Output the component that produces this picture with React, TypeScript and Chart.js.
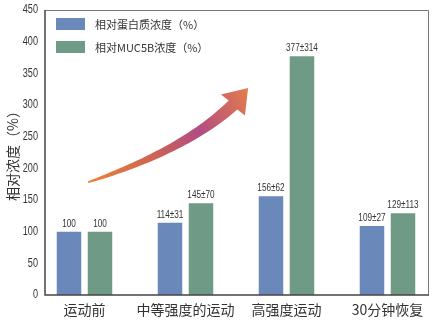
import React, { useEffect, useRef } from "react";
import { Chart, registerables } from "chart.js";

Chart.register(...registerables);

const categories = ["运动前", "中等强度的运动", "高强度运动", "30分钟恢复"];
const seriesNames = ["相对蛋白质浓度（%）", "相对MUC5B浓度（%）"];
const proteinValues = [100, 114, 156, 109];
const proteinErrors = [null, 31, 62, 27];
const mucValues = [100, 145, 377, 129];
const mucErrors = [null, 70, 314, 113];
const yTicks = [0, 50, 100, 150, 200, 250, 300, 350, 400, 450];

const BLUE = "#6b88ba";
const GREEN = "#6f9a86";
const SANS = "'Liberation Sans', Arial, sans-serif";
const CJK = "'Noto Sans CJK SC', 'Noto Sans', sans-serif";

// arrow decoration path in data units (x: category index, y: value)
const arrowStart = { x: 0.035, y: 178 };
const arrowCtrl = { x: 0.995, y: 229 };
const arrowBase = { x: 1.47, y: 300 };
const arrowTip = { x: 1.62, y: 327 };

function fmt(v: number, e: number | null) {
  return e == null ? String(v) : `${v}±${e}`;
}

function narrowText(ctx: any, text: string, x: number, y: number, align: string, sx: number) {
  ctx.save();
  ctx.translate(x, y);
  ctx.scale(sx, 1);
  ctx.textAlign = align;
  ctx.fillText(text, 0, 0);
  ctx.restore();
}

const labelPlugin = {
  id: "barLabels",
  afterDatasetsDraw(chart: any) {
    const ctx = chart.ctx;
    const errs = [proteinErrors, mucErrors];
    ctx.save();
    ctx.font = `10px ${SANS}`;
    ctx.fillStyle = "#333";
    ctx.textBaseline = "alphabetic";
    chart.data.datasets.forEach((ds: any, di: number) => {
      const meta = chart.getDatasetMeta(di);
      meta.data.forEach((el: any, i: number) => {
        narrowText(ctx, fmt(ds.data[i].y, errs[di][i]), el.x, el.y - 5, "center", 0.82);
      });
    });
    // y tick labels
    const ys = chart.scales.y;
    ctx.font = `12px ${SANS}`;
    ctx.textBaseline = "middle";
    yTicks.forEach((v) => {
      narrowText(ctx, String(v), chart.chartArea.left - 7, ys.getPixelForValue(v), "right", 0.76);
    });
    ctx.restore();
  },
};

const framePlugin = {
  id: "frame",
  afterDraw(chart: any) {
    const { ctx, chartArea: a } = chart;
    ctx.save();
    ctx.strokeStyle = "#777";
    ctx.lineWidth = 1;
    ctx.beginPath();
    ctx.moveTo(a.left, a.top + 0.5);
    ctx.lineTo(a.right - 0.5, a.top + 0.5);
    ctx.lineTo(a.right - 0.5, a.bottom);
    ctx.stroke();
    ctx.strokeStyle = "#444";
    ctx.lineWidth = 1.5;
    ctx.beginPath();
    ctx.moveTo(a.left, a.top);
    ctx.lineTo(a.left, a.bottom);
    ctx.lineTo(a.right, a.bottom);
    ctx.stroke();

    // legend
    const colors = [BLUE, GREEN];
    ctx.font = `11px ${CJK}`;
    ctx.textBaseline = "middle";
    ctx.textAlign = "left";
    seriesNames.forEach((name, i) => {
      const y = a.top + 8 + i * 23;
      ctx.fillStyle = colors[i];
      ctx.fillRect(a.left + 11, y, 29, 12);
      ctx.fillStyle = "#333";
      ctx.fillText(name, a.left + 50, y + 6.5);
    });
    ctx.restore();
  },
};

const arrowPlugin = {
  id: "arrow",
  beforeDatasetsDraw(chart: any) {
    const { ctx } = chart;
    const xs = chart.scales.x;
    const ys = chart.scales.y;
    const P = (p: { x: number; y: number }) => ({
      x: xs.getPixelForValue(p.x),
      y: ys.getPixelForValue(p.y),
    });
    const p0 = P(arrowStart);
    const p1 = P(arrowCtrl);
    const p2 = P(arrowBase);
    const tip = P(arrowTip);
    const N = 40;
    const left: any[] = [];
    const right: any[] = [];
    for (let k = 0; k <= N; k++) {
      const t = k / N;
      const mt = 1 - t;
      const cx = mt * mt * p0.x + 2 * mt * t * p1.x + t * t * p2.x;
      const cy = mt * mt * p0.y + 2 * mt * t * p1.y + t * t * p2.y;
      const dx = 2 * mt * (p1.x - p0.x) + 2 * t * (p2.x - p1.x);
      const dy = 2 * mt * (p1.y - p0.y) + 2 * t * (p2.y - p1.y);
      const len = Math.hypot(dx, dy) || 1;
      const nx = -dy / len;
      const ny = dx / len;
      const w = (1.5 + 11 * Math.pow(t, 0.7)) / 2;
      left.push({ x: cx + nx * w, y: cy + ny * w });
      right.push({ x: cx - nx * w, y: cy - ny * w });
    }
    const hdx = tip.x - p2.x;
    const hdy = tip.y - p2.y;
    const hl = Math.hypot(hdx, hdy) || 1;
    const px = -hdy / hl;
    const py = hdx / hl;
    const hw = 16;
    const grad = ctx.createLinearGradient(p0.x, p0.y, tip.x, tip.y);
    grad.addColorStop(0, "#e8843a");
    grad.addColorStop(0.35, "#d0664f");
    grad.addColorStop(0.65, "#b24c84");
    grad.addColorStop(1, "#e47c4c");
    ctx.save();
    ctx.fillStyle = grad;
    ctx.beginPath();
    ctx.moveTo(left[0].x, left[0].y);
    left.forEach((p) => ctx.lineTo(p.x, p.y));
    ctx.lineTo(p2.x + px * hw, p2.y + py * hw);
    ctx.lineTo(tip.x, tip.y);
    ctx.lineTo(p2.x - px * hw, p2.y - py * hw);
    for (let k = right.length - 1; k >= 0; k--) ctx.lineTo(right[k].x, right[k].y);
    ctx.closePath();
    ctx.fill();
    ctx.restore();
  },
};

export default function App() {
  const ref = useRef<HTMLCanvasElement | null>(null);
  useEffect(() => {
    if (!ref.current) return;
    const chart = new Chart(ref.current, {
      type: "bar",
      data: {
        datasets: [
          {
            label: seriesNames[0],
            data: proteinValues.map((v, i) => ({ x: i, y: v })),
            backgroundColor: BLUE,
            categoryPercentage: 0.614,
            barPercentage: 0.79,
          },
          {
            label: seriesNames[1],
            data: mucValues.map((v, i) => ({ x: i, y: v })),
            backgroundColor: GREEN,
            categoryPercentage: 0.614,
            barPercentage: 0.79,
          },
        ],
      },
      options: {
        responsive: false,
        animation: false,
        layout: { padding: { left: 0, right: 11, top: 10, bottom: 0 } },
        plugins: { legend: { display: false }, tooltip: { enabled: false } },
        scales: {
          x: {
            type: "linear",
            min: -0.391,
            max: 3.411,
            offset: false,
            grid: { display: false, drawTicks: false },
            border: { display: false },
            afterBuildTicks: (axis: any) => {
              axis.ticks = categories.map((_, i) => ({ value: i }));
            },
            afterFit: (axis: any) => {
              axis.height = 25;
            },
            ticks: {
              autoSkip: false,
              maxRotation: 0,
              padding: 6,
              color: "#333",
              font: { family: CJK, size: 14 },
              callback: (v: any) => categories[v as number] ?? "",
            },
          },
          y: {
            min: 0,
            max: 450,
            grid: { display: false, drawTicks: false },
            border: { display: false },
            afterBuildTicks: (axis: any) => {
              axis.ticks = yTicks.map((v) => ({ value: v }));
            },
            afterFit: (axis: any) => {
              axis.width = 45;
            },
            ticks: { display: false },
            title: {
              display: true,
              text: "相对浓度（%）",
              color: "#333",
              font: { family: CJK, size: 14 },
              padding: { top: 4, bottom: 0 },
            },
          },
        },
      },
      plugins: [arrowPlugin, labelPlugin, framePlugin],
    } as any);
    return () => chart.destroy();
  }, []);
  return (
    <div style={{ position: "fixed", left: 0, top: 0, width: 440, height: 320, background: "#fff" }}>
      <canvas ref={ref} width={440} height={320} />
    </div>
  );
}
